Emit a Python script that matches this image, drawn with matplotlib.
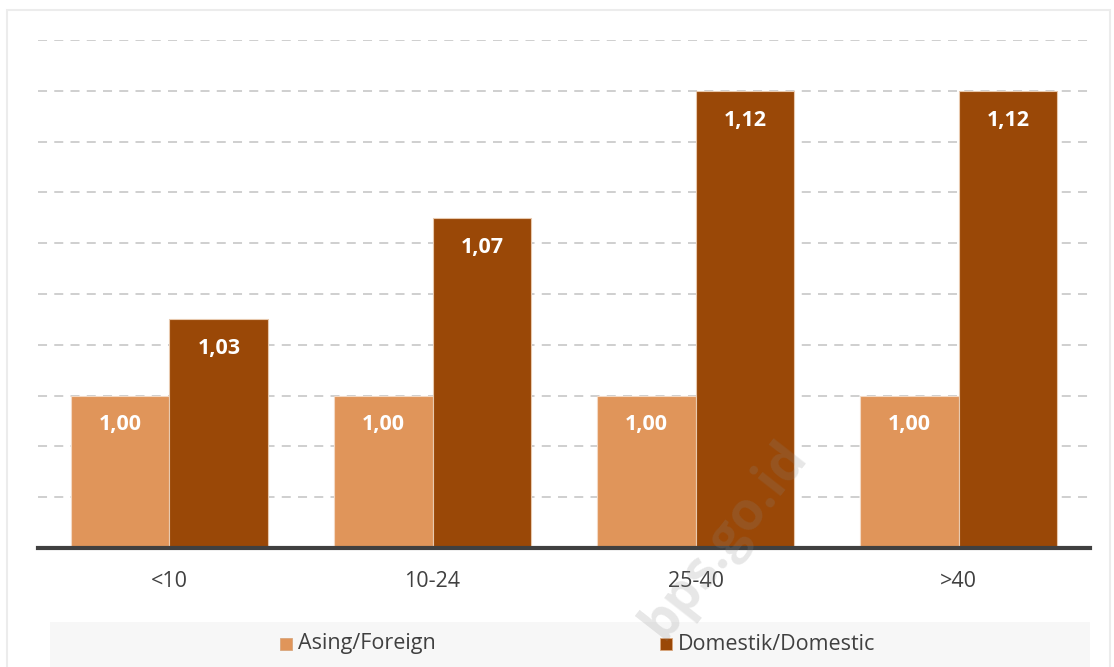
import numpy as np
import matplotlib.pyplot as plt
from matplotlib.patches import Rectangle

# Data
categories = ["<10", "10-24", "25-40", ">40"]
foreign = [1.00, 1.00, 1.00, 1.00]
domestic = [1.03, 1.07, 1.12, 1.12]
series_names = ["Asing/Foreign", "Domestik/Domestic"]

LIGHT = "#E0955A"
DARK = "#9A4807"

plt.rcParams["font.family"] = ["Open Sans", "DejaVu Sans"]

fig = plt.figure(figsize=(11.14, 6.67), dpi=100)
ax = fig.add_axes([0.0341, 0.1784, 0.9444, 0.7616])

# outer light frame
fig.patches.append(Rectangle((0.0065, -0.01), 0.99, 0.995, transform=fig.transFigure,
                             fill=False, edgecolor="#ececec", linewidth=1.5))

x = np.arange(len(categories))
w = 0.376
ax.bar(x - w / 2, np.array(foreign) - 0.94, w, bottom=0.94, color=LIGHT,
       edgecolor="#f3d9c4", linewidth=0.8, zorder=3)
ax.bar(x + w / 2, np.array(domestic) - 0.94, w, bottom=0.94, color=DARK,
       edgecolor="#e8c9ae", linewidth=0.8, zorder=3)

for xs, vals in [(x - w / 2, foreign), (x + w / 2, domestic)]:
    for xi, v in zip(xs, vals):
        ax.text(xi, v - 0.0115, f"{v:.2f}".replace(".", ","), ha="center", va="center",
                color="white", fontsize=15.5, fontweight="bold", zorder=4)

ax.set_xlim(-0.5, 3.5)
ax.set_ylim(0.94, 1.14)
ax.set_yticks(np.arange(0.96, 1.1401, 0.02))
ax.yaxis.grid(True, color="#cccccc", linestyle=(0, (5, 4)), linewidth=1.3, zorder=0)
ax.tick_params(axis="y", left=False, labelleft=False)
ax.tick_params(axis="x", bottom=False, labelsize=15.5, labelcolor="#404040", pad=13)
ax.set_xticks(x)
ax.set_xticklabels(categories)
for s in ["top", "right", "left"]:
    ax.spines[s].set_visible(False)
ax.spines["bottom"].set_color("#404040")
ax.spines["bottom"].set_linewidth(3)
ax.spines["bottom"].set_zorder(5)

# legend band
fig.patches.append(Rectangle((50 / 1114, 0), 1040 / 1114, 45 / 667, transform=fig.transFigure,
                             facecolor="#f7f7f7", edgecolor="none", zorder=0))
for xpos, col, name in [(280, LIGHT, series_names[0]), (660, DARK, series_names[1])]:
    fig.patches.append(Rectangle((xpos / 1114, 1 - 650 / 667), 12 / 1114, 12 / 667,
                                 transform=fig.transFigure, facecolor=col,
                                 edgecolor="#d9a77d", linewidth=0.6, zorder=2))
    fig.text((xpos + 18) / 1114, 1 - 644 / 667, name, ha="left", va="center",
             fontsize=15.5, color="#404040")

# watermark
fig.text(725 / 1114, 1 - 540 / 667, "bps.go.id", rotation=52, ha="center", va="center",
         fontsize=38, fontweight="bold", color="#888888", alpha=0.2, zorder=10)

fig.savefig("out.png", dpi=100)
